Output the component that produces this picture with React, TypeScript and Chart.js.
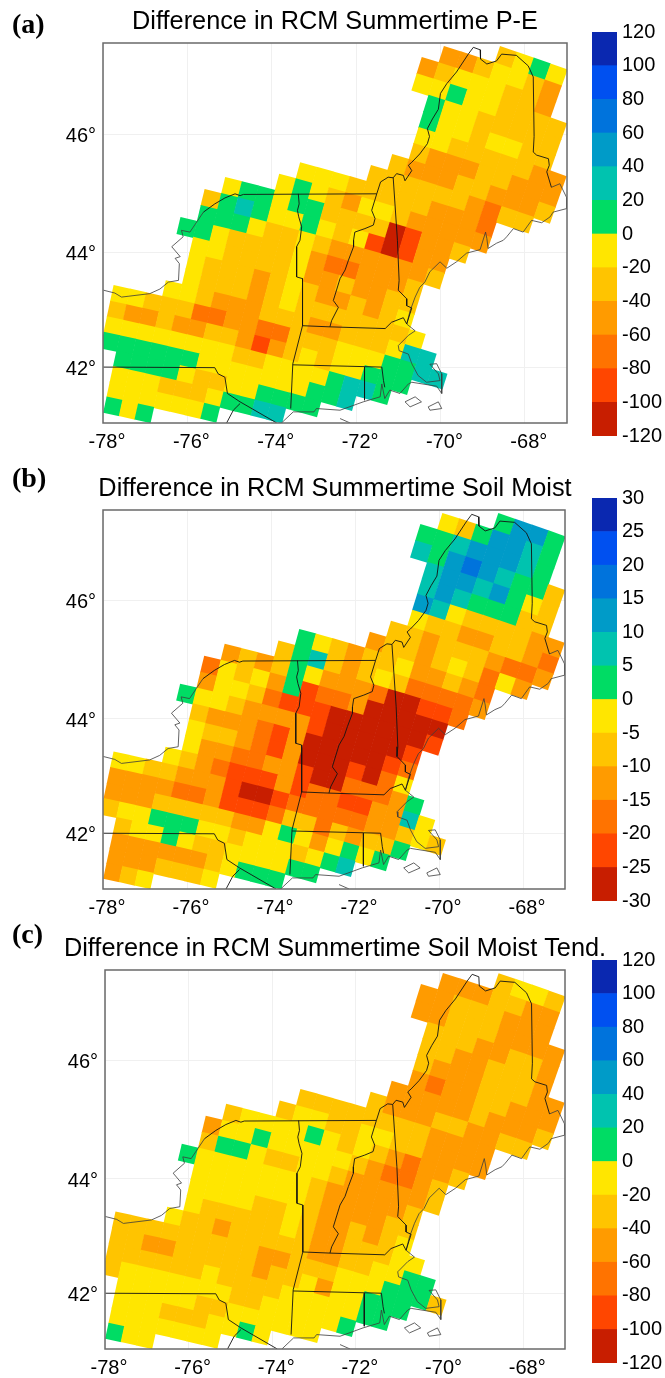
import React, { useEffect, useRef } from "react";
import { Chart, registerables } from "chart.js";

Chart.register(...registerables);

// ---- chart data -------------------------------------------------------------
const titles = [
  "Difference in RCM Summertime P-E",
  "Difference in RCM Summertime Soil Moist",
  "Difference in RCM Summertime Soil Moist Tend.",
];
const panelTags = ["(a)", "(b)", "(c)"];
const lonTicks = [-78, -76, -74, -72, -70, -68];
const latTicks = [42, 44, 46];
const barTicksWide = [-120, -100, -80, -60, -40, -20, 0, 20, 40, 60, 80, 100, 120];
const barTicksNarrow = [-30, -25, -20, -15, -10, -5, 0, 5, 10, 15, 20, 25, 30];
const levelCodes = "ABCDEFGHIJKL";
const levelColors = [
  "#c81e00", "#ff4600", "#ff7300", "#ff9b00", "#ffc400", "#ffe600",
  "#00dc64", "#00c3af", "#009bc8", "#0073dc", "#0050f0", "#0a28b0",
];

// One character per grid cell (colour class), first line = northernmost grid row.
const panelARows = [
  "..................EFGF..",
  "...............DDEFFED..",
  "..............DEFFFEED..",
  "..............FFGFFEEEE.",
  "...............GFFEEEEE.",
  "...............GFFEFFEE.",
  "...............FFEEEEEDD",
  "...............EDDDEEDDD",
  "..............EDDDEEDDDE",
  ".............EEEEEEDCEE.",
  ".........FFFEEEEEDDDC...",
  "........FGFEDFFEDDDDD...",
  ".....FGGFGGEEEEABDDE....",
  "....EGHGFFGFEFBABDD.....",
  "....GGGFEEFEDDDDDDE.....",
  "...GGFEEEEFDCCDDDE......",
  "....FFEEEEFDDEDDEE......",
  "....FEEEDEFEDDEDEF......",
  "....FEEEDEFEEEEEEEF.....",
  "...FFEDDDEEEDDEEEFHH....",
  "FFEEECCDDCCEEEFFFGGHH...",
  "EDDEDDEEDBDEFEFFGGG.....",
  "FFFFFFFFEEFFFFGHHG......",
  "GGGGGGFFFFFFFGGH........",
  ".GGGGFEEFFGGGG..........",
  ".FFFEEEFGGHH............",
  ".FFFFFFG................",
  ".GFG....................",
];
const panelBRows = [
  "..................GIIG..",
  "...............FEGIIHG..",
  "..............GGHIIIHG..",
  "..............HGIJIHGGE.",
  "...............HIIHIGFE.",
  "...............HIHGGGEE.",
  "...............IHFEEEEDD",
  "...............FEEDDEEDC",
  "..............EEDEEEDCCD",
  ".............DEEDEFECFD.",
  ".........GFEDEEFDDEDC...",
  "........EGHEDEFECCCCD...",
  ".....DEDEGFDDDCAABBC....",
  "....CFEFDGBCCDAAAAA.....",
  "....DFFECBBBAAAAAAB.....",
  "...GFFEDDDDBAAAAAB......",
  "....EDDDCBDAAAAABC......",
  "....FEEDCBDAAABACF......",
  "....FDDCCDDBAACCCDG.....",
  "...FEDCBBBDBCCBBDDHF....",
  "FFEEDDDBAABCCCCCDDEFE...",
  "DDDDCCDBBBCEECEDEEG.....",
  "DDDEEEEEDDFGFDFGFG......",
  "EFFGGGFFEFFFEFGH........",
  ".EFFGFEEFFFFGG..........",
  ".DDDDDDEFGGG............",
  ".DDDEEEF................",
  ".DEF....................",
];
const panelCRows = [
  "..................EFFE..",
  "...............DDDEEDD..",
  "..............DDEEEDDD..",
  "..............DDEEEDDDD.",
  "...............EEEDDEED.",
  "...............EEDDEEED.",
  "...............EDDDEEEDD",
  "...............DCDDEEDDD",
  "..............DDDDDEDDDE",
  ".............EDDDEEDDEE.",
  ".........EEEEEEEEDDDD...",
  "........EFFEEFFEEDDDD...",
  ".....EFFFFGFEFEDCDDE....",
  "....DFFGFFFFFEDCCDE.....",
  "....EGGFEEFFEDDDDDE.....",
  "...GFFFFFFFEDDDDDE......",
  "....FFFFFFFEDDDDEE......",
  "....FFFFEEFEDDEDEF......",
  "....FEEEEEFEDDEEEFF.....",
  "...FEEDEEEEEDDEEFFGG....",
  "EEEEEEEEEDDEEEFFFGGGE...",
  "EEDDEEEEEDEEFDFFGGG.....",
  "EEEEEEFEEEEFFFFFGG......",
  "EFFFFFFFEEFFFFFG........",
  ".FFFFFEEFFFFFF..........",
  ".FFFEEEFFGF.............",
  ".FFFFFFF................",
  ".GFF....................",
];

// Coast and border lines as [lon, lat].
const lakeAndCoast = [
  [-77.99,43.35],[-77.72,43.3],[-77.56,43.23],[-76.89,43.29],[-76.65,43.37],[-76.45,43.49],[-76.21,43.52],
  [-76.19,43.81],[-76.29,43.9],[-76.17,43.93],[-76.37,44.1],[-76.1,44.27],[-76.14,44.38],[-75.94,44.35],
  [-75.78,44.52],[-75.62,44.69],
];
const northBorder = [
  [-75.62,44.69],[-75.35,44.83],[-75.11,44.93],[-74.87,45.0],[-74.75,44.97],[-74.67,44.99],[-71.51,45.0],
  [-71.42,45.2],[-71.24,45.28],[-71.12,45.27],[-71.04,45.34],[-70.88,45.31],[-70.84,45.22],[-70.68,45.39],
  [-70.76,45.48],[-70.68,45.53],[-70.49,45.67],[-70.31,45.84],[-70.26,45.96],[-70.31,46.09],[-70.19,46.25],
  [-70.05,46.41],[-70.0,46.67],[-69.85,46.83],[-69.62,47.02],[-69.34,47.31],[-69.22,47.42],[-69.06,47.38],
  [-69.05,47.23],[-68.9,47.15],[-68.67,47.2],[-68.55,47.31],[-68.2,47.29],[-67.92,47.12],[-67.8,46.94],
  [-67.78,45.96],[-67.8,45.7],[-67.72,45.65],[-67.44,45.59],[-67.42,45.48],[-67.48,45.37],[-67.37,45.11],
];
const atlanticCoast = [
  [-67.37,45.11],[-67.17,45.17],[-67.01,44.94],[-67.01,44.75],[-67.33,44.69],[-67.4,44.61],[-67.6,44.51],
  [-67.84,44.55],[-68.04,44.35],[-68.27,44.41],[-68.43,44.27],[-68.51,44.21],[-68.67,44.16],[-68.87,44.07],
  [-68.9,44.24],[-68.93,44.35],[-69.06,44.05],[-69.38,43.99],[-69.62,43.84],[-69.85,43.73],[-70.01,43.84],
  [-70.25,43.67],[-70.37,43.49],[-70.49,43.4],[-70.6,43.23],[-70.72,42.99],[-70.8,42.76],[-70.6,42.64],
  [-70.76,42.56],[-71.0,42.38],[-70.98,42.29],[-70.76,42.23],[-70.68,42.06],[-70.53,41.85],[-70.33,41.73],
  [-70.01,41.76],[-70.05,41.88],[-70.25,42.05],[-70.09,42.06],[-69.97,41.88],[-69.97,41.53],[-70.09,41.66],
  [-70.68,41.73],[-70.76,41.7],[-70.96,41.53],[-71.2,41.59],[-71.32,41.44],[-71.39,41.7],[-71.43,41.47],
  [-71.83,41.38],[-72.38,41.23],[-72.94,41.26],[-73.0,41.2],[-73.49,41.2],[-73.77,41.0],
];
const vermontNewYork = [
  [-73.37,45.0],[-73.35,44.83],[-73.39,44.72],[-73.36,44.61],[-73.29,44.44],[-73.33,44.21],[-73.41,44.1],
  [-73.41,43.81],[-73.41,43.58],[-73.27,43.55],[-73.27,42.73],[-73.5,42.06],[-73.55,41.26],
];
const massNorth = [[-73.27,42.73],[-72.62,42.71],[-71.31,42.68],[-71.16,42.79],[-70.88,42.87],[-70.8,42.76]];
const connecticutRiver = [
  [-71.51,45.0],[-71.63,44.72],[-71.55,44.58],[-71.59,44.47],[-71.79,44.41],[-72.03,44.35],[-72.06,44.21],
  [-72.06,44.1],[-72.18,43.87],[-72.26,43.7],[-72.38,43.55],[-72.54,43.17],[-72.42,43.05],[-72.58,42.82],[-72.62,42.71],
];
const newHampshireMaine = [
  [-71.12,45.27],[-71.02,44.21],[-70.98,43.52],[-71.0,43.35],[-70.8,43.2],[-70.8,43.08],[-70.68,43.04],[-70.8,42.76],
];
const connecticutNorth = [[-73.5,42.04],[-71.39,42.0],[-71.35,41.76],[-71.32,41.64]];
const connecticutRhode = [[-71.8,42.0],[-71.8,41.41]];
const newYorkPenn = [
  [-77.99,42.0],[-75.35,41.99],[-75.27,41.88],[-75.11,41.82],[-75.05,41.53],[-74.75,41.38],[-73.88,41.0],
];
const pennJersey = [[-74.75,41.35],[-74.91,41.23],[-75.07,41.0]];
const marthasVineyard = [[-70.84,41.38],[-70.6,41.47],[-70.45,41.38],[-70.72,41.29],[-70.84,41.38]];
const nantucket = [[-70.29,41.29],[-70.05,41.38],[-69.97,41.26],[-70.25,41.23],[-70.29,41.29]];
const longIsland = [[-72.38,41.08],[-72.14,41.0]];

const borderLines = [northBorder, vermontNewYork, massNorth, connecticutRiver, newHampshireMaine, connecticutNorth, connecticutRhode, newYorkPenn, pennJersey];
const shoreLines = [lakeAndCoast, atlanticCoast, marthasVineyard, nantucket, longIsland];

// ---- map projection of the model grid ---------------------------------------
const coneN = 0.7;
const coneLon = -95;
const gridX0 = 0.12;
const gridY0 = -0.5614;
const gridDX = 0.00267;
const gridDY = 0.002574;
const gridVScale = 1.00789;
const gridVShift = -0.3615;
const mapLatMin = 41;
const mapLatMax = 47.49;
const mapLonMin = -78;
const mapLonMax = -67;
const DEG = 180 / Math.PI;
const merc = (lat: number) => DEG * Math.log(Math.tan(Math.PI / 4 + lat / (2 * DEG)));
const unmerc = (v: number) => 2 * DEG * Math.atan(Math.exp(v / DEG)) - 90;

function rowsToCells(rows: string[], pxPerDeg: number) {
  const pts: { x: number; y: number }[] = [];
  const colors: string[] = [];
  const rotation: number[] = [];
  const radius: number[] = [];
  rows.forEach((line, idx) => {
    const r = rows.length - 1 - idx;
    for (let i = 0; i < line.length; i++) {
      const level = levelCodes.indexOf(line[i]);
      if (level < 0) continue;
      const X = gridX0 + (i - 1) * gridDX;
      const Y = gridY0 + r * gridDY;
      const theta = Math.atan2(X, -Y) * DEG;
      const rho = Math.hypot(X, Y);
      pts.push({ x: theta / coneN + coneLon, y: gridVShift + gridVScale * ((-Math.log(rho) / coneN) * DEG) });
      colors.push(levelColors[level]);
      rotation.push(theta);
      const side = (gridDX / (coneN * rho)) * DEG * pxPerDeg + 0.5;
      radius.push(side * Math.SQRT1_2);
    }
  });
  return { pts, colors, rotation, radius };
}

// ---- layout -----------------------------------------------------------------
const panels = [
  { rows: panelARows, left: 103, right: 567, top: 43, bottom: 423, barTop: 32, barBottom: 436, ticks: barTicksWide, tagY: 8 },
  { rows: panelBRows, left: 103, right: 565, top: 510, bottom: 889, barTop: 498, barBottom: 901, ticks: barTicksNarrow, tagY: 462 },
  { rows: panelCRows, left: 105, right: 565, top: 970, bottom: 1349, barTop: 960, barBottom: 1363, ticks: barTicksWide, tagY: 918 },
];
const SANS = "'Liberation Sans', Arial, sans-serif";
const CANVAS_W = 670;
const TITLE_BLOCK = 36;
const X_AXIS_H = 32;

function MapPanel({ index }: { index: number }) {
  const ref = useRef<HTMLCanvasElement>(null);
  const p = panels[index];
  const canvasTop = p.top - TITLE_BLOCK;
  const canvasH = p.bottom - canvasTop + X_AXIS_H;
  useEffect(() => {
    const pxPerDeg = (p.right - p.left) / (mapLonMax - mapLonMin);
    const cells = rowsToCells(p.rows, pxPerDeg);
    const toPts = (line: number[][]) => line.map(([lon, lat]) => ({ x: lon, y: merc(lat) }));
    const lineSet = (line: number[][], color: string) => ({
      type: "scatter",
      data: toPts(line),
      showLine: true,
      borderColor: color,
      borderWidth: 1,
      pointRadius: 0,
      clip: 0,
      order: 0,
    });
    const frame = {
      id: "frame",
      afterDatasetsDraw(chart: any) {
        const { ctx, chartArea: a } = chart;
        ctx.save();
        ctx.strokeStyle = "#6a6a6a";
        ctx.lineWidth = 1.5;
        ctx.strokeRect(a.left, a.top, a.right - a.left, a.bottom - a.top);
        ctx.restore();
      },
    };
    const chart = new Chart(ref.current!, {
      type: "scatter",
      data: {
        datasets: [
          ...borderLines.map((l) => lineSet(l, "rgba(20,20,20,0.9)")),
          ...shoreLines.map((l) => lineSet(l, "rgba(60,60,60,0.8)")),
          {
            type: "scatter",
            data: cells.pts,
            pointStyle: "rect",
            pointRadius: cells.radius,
            pointRotation: cells.rotation,
            pointBackgroundColor: cells.colors,
            pointBorderWidth: 0,
            showLine: false,
            clip: 0,
            order: 1,
          },
        ],
      } as any,
      options: {
        animation: false,
        responsive: false,
        events: [],
        layout: { autoPadding: false, padding: 0 },
        plugins: {
          legend: { display: false },
          tooltip: { enabled: false },
          title: {
            display: true,
            text: titles[index],
            color: "#000",
            font: { family: SANS, size: 25.3, weight: "normal", lineHeight: "30px" },
            padding: { top: 0, bottom: 6 },
          },
        },
        scales: {
          x: {
            type: "linear",
            min: mapLonMin,
            max: mapLonMax,
            afterBuildTicks: (s: any) => { s.ticks = lonTicks.map((value) => ({ value })); },
            afterFit: (s: any) => { s.height = X_AXIS_H; },
            grid: { color: "#f0f0f0", lineWidth: 1, drawTicks: false },
            border: { display: false },
            ticks: {
              color: "#000",
              font: { family: SANS, size: 20 },
              padding: 7,
              maxRotation: 0,
              autoSkip: false,
              labelOffset: 4,
              callback: (v: any) => `${v}°`,
            },
          },
          y: {
            type: "linear",
            min: merc(mapLatMin),
            max: merc(mapLatMax),
            afterBuildTicks: (s: any) => { s.ticks = latTicks.map((lat) => ({ value: merc(lat) })); },
            afterFit: (s: any) => { s.width = p.left; },
            grid: { color: "#f0f0f0", lineWidth: 1, drawTicks: false },
            border: { display: false },
            ticks: {
              color: "#000",
              font: { family: SANS, size: 20 },
              padding: 7,
              autoSkip: false,
              labelOffset: 2,
              callback: (v: any) => `${Math.round(unmerc(v))}°`,
            },
          },
          yMargin: {
            type: "linear",
            position: "right",
            afterFit: (s: any) => { s.width = CANVAS_W - p.right; },
            grid: { display: false, drawTicks: false },
            border: { display: false },
            ticks: { display: false },
          },
        },
      } as any,
      plugins: [frame],
    });
    return () => chart.destroy();
  }, []);
  return (
    <canvas
      ref={ref}
      width={CANVAS_W}
      height={canvasH}
      style={{ position: "absolute", left: 0, top: canvasTop, width: CANVAS_W, height: canvasH }}
    />
  );
}

function ColorBar({ index }: { index: number }) {
  const ref = useRef<HTMLCanvasElement>(null);
  const p = panels[index];
  const pad = 12;
  const outer = 17;
  const h = p.barBottom - p.barTop + outer * 2;
  useEffect(() => {
    const t = p.ticks;
    const chart = new Chart(ref.current!, {
      type: "bar",
      data: {
        labels: [""],
        datasets: levelColors.map((color, i) => ({
          data: [[t[i], t[i + 1]]],
          backgroundColor: color,
          borderWidth: 0,
          grouped: false,
          barPercentage: 1,
          categoryPercentage: 1,
        })),
      } as any,
      options: {
        animation: false,
        responsive: false,
        events: [],
        layout: { autoPadding: false, padding: { left: 0, right: 0, top: pad, bottom: pad } },
        plugins: { legend: { display: false }, tooltip: { enabled: false }, title: { display: false } },
        scales: {
          x: { display: false },
          y: {
            type: "linear",
            position: "right",
            min: t[0],
            max: t[t.length - 1],
            afterBuildTicks: (s: any) => { s.ticks = t.map((value) => ({ value })); },
            afterFit: (s: any) => { s.width = 48; },
            grid: { display: false, drawTicks: false },
            border: { display: false },
            ticks: { color: "#000", font: { family: SANS, size: 20 }, padding: 5, autoSkip: false },
          },
        },
      } as any,
    });
    return () => chart.destroy();
  }, []);
  return (
    <canvas
      ref={ref}
      width={73}
      height={h}
      style={{ position: "absolute", left: 592, top: p.barTop - outer, width: 73, height: h }}
    />
  );
}

export default function App() {
  return (
    <div style={{ position: "absolute", left: 0, top: 0, width: 665, height: 1378, overflow: "hidden", background: "#fff" }}>
      {panels.map((p, i) => (
        <React.Fragment key={i}>
          <MapPanel index={i} />
          <ColorBar index={i} />
          <div
            style={{
              position: "absolute",
              left: 12,
              top: p.tagY,
              fontFamily: "'Liberation Serif', 'Times New Roman', serif",
              fontWeight: "bold",
              fontSize: 28,
              lineHeight: "32px",
              color: "#000",
            }}
          >
            {panelTags[i]}
          </div>
        </React.Fragment>
      ))}
    </div>
  );
}
